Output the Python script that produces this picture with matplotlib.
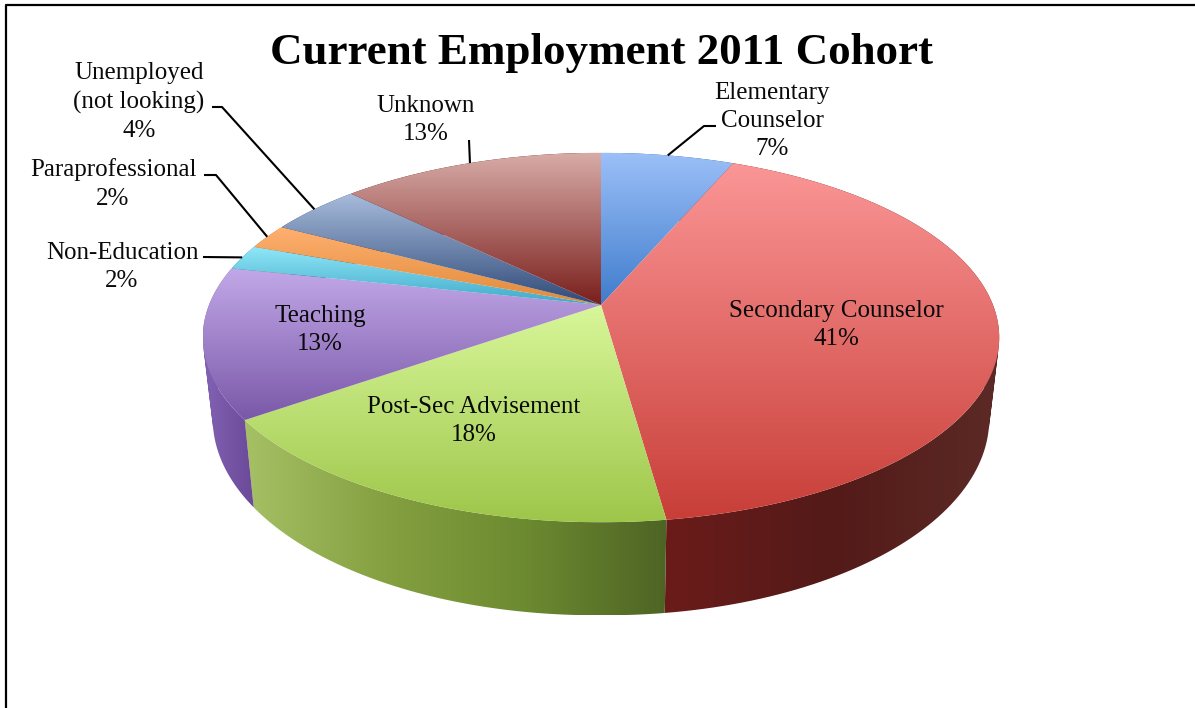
"""Current employment of the 2011 cohort, drawn as a tilted pie with a side wall."""

import numpy as np
import matplotlib

matplotlib.use("Agg")
import matplotlib.pyplot as plt
from matplotlib.colors import LinearSegmentedColormap
from matplotlib.path import Path
from matplotlib.patches import PathPatch

categories = [
    "Elementary\nCounselor",
    "Secondary Counselor",
    "Post-Sec Advisement",
    "Teaching",
    "Non-Education",
    "Paraprofessional",
    "Unemployed\n(not looking)",
    "Unknown",
]
shares = [6.4, 41.4, 17.4, 13.2, 2.2, 2.2, 4.5, 12.7]
percent_labels = ["7%", "41%", "18%", "13%", "2%", "2%", "4%", "13%"]

# gradient stops per slice, light end first
top_colors = [
    ("#9cc0f8", "#3f7ccc"),
    ("#fb9696", "#c83e38"),
    ("#d8f79a", "#9ec64a"),
    ("#c2a8e8", "#7a58a8"),
    ("#90e8f8", "#40a8c8"),
    ("#ffb070", "#e08a3a"),
    ("#a8bcdc", "#2f4a78"),
    ("#d8aca8", "#7a1f1c"),
]
wall_colors = [
    ("#2f5490", "#2f5490"),
    ("#6b1c1a", "#531a18", "#5c2a26"),
    ("#a6c065", "#84a040", "#6c8a30", "#4e6424"),
    ("#8262b2", "#6a4a98"),
    ("#2f8098", "#2f8098"),
    ("#b06a28", "#b06a28"),
    ("#2f4060", "#2f4060"),
    ("#5c1a18", "#5c1a18"),
]

# label anchor (centre x, centre y) in figure pixels
label_pos = [
    (772, 121), (836, 325), (474, 421), (320, 330),
    (122, 267), (113, 184), (139, 102), (426, 120),
]
# leader start and elbow for the outside labels, None when the label sits on the slice
leader_pos = [
    [(716, 126), (704, 126)], None, None, None,
    [(203, 257)], [(204, 175), (216, 175)], [(212, 107), (222, 107)], [(469, 140)],
]

CX, APEX_Y = 601, 305
RADIUS, TILT_K, TILT_D = 392, 179, 0.176


def top_rim(theta):
    """Project pie angles (clockwise from 12 o'clock) onto the top face."""
    u, v = np.sin(theta), np.cos(theta)
    scale = 1 + TILT_D * v
    return CX + RADIUS * u / scale, APEX_Y - TILT_K * v / scale


def bottom_rim(theta):
    x, y = top_rim(theta)
    return CX + (x - CX) * 0.975, 507 + 1.08 * (y - 422) + 3 * np.abs(np.sin(theta))


def gradient_fill(ax, clip_path, colors, vertical, zorder):
    x0, y0 = clip_path.vertices.min(axis=0)
    x1, y1 = clip_path.vertices.max(axis=0)
    cmap = LinearSegmentedColormap.from_list("fill", colors)
    ramp = np.linspace(0, 1, 256)
    ramp = ramp[:, None] if vertical else ramp[None, :]
    image = ax.imshow(
        ramp,
        cmap=cmap,
        extent=(x0, x1, y1, y0),
        aspect="auto",
        zorder=zorder,
        interpolation="bilinear",
    )
    patch = PathPatch(clip_path, transform=ax.transData)
    image.set_clip_path(patch)


def wall_path(theta):
    """Sweep the rim down in small quads so the fold at the pie's sides stays filled."""
    top_x, top_y = top_rim(theta)
    low_x, low_y = bottom_rim(theta)
    verts, codes = [], []
    for j in range(len(theta) - 1):
        quad = np.array([
            (top_x[j], top_y[j]),
            (top_x[j + 1], top_y[j + 1]),
            (low_x[j + 1], low_y[j + 1]),
            (low_x[j], low_y[j]),
        ])
        xs, ys = quad[:, 0], quad[:, 1]
        if np.sum(xs * np.roll(ys, -1) - np.roll(xs, -1) * ys) < 0:
            quad = quad[::-1]
        verts.extend(quad.tolist() + [quad[0].tolist()])
        codes.extend([Path.MOVETO, Path.LINETO, Path.LINETO, Path.LINETO, Path.CLOSEPOLY])
    return Path(verts, codes)


plt.rcParams["font.family"] = ["Liberation Serif", "DejaVu Serif"]
fig = plt.figure(figsize=(11.95, 7.08), dpi=100)
ax = fig.add_axes((0, 0, 1, 1))

edges = np.cumsum([0] + shares) / sum(shares) * 2 * np.pi
for i in range(len(shares)):
    theta = np.linspace(edges[i], edges[i + 1], 120)
    gradient_fill(ax, wall_path(theta), wall_colors[i], vertical=False, zorder=2)

for i in range(len(shares)):
    theta = np.linspace(edges[i], edges[i + 1], 120)
    top_x, top_y = top_rim(theta)
    outline = np.column_stack([np.r_[CX, top_x, CX], np.r_[APEX_Y, top_y, APEX_Y]])
    gradient_fill(ax, Path(outline, closed=True), top_colors[i], vertical=True, zorder=3)

for i, name in enumerate(categories):
    x, y = label_pos[i]
    ax.text(
        x, y, f"{name}\n{percent_labels[i]}",
        ha="center", va="center", fontsize=18, linespacing=1.37,
        color="#0a0a0a", zorder=5,
    )
    if leader_pos[i] is not None:
        end_x, end_y = top_rim((edges[i] + edges[i + 1]) / 2)
        xs = [p[0] for p in leader_pos[i]] + [end_x]
        ys = [p[1] for p in leader_pos[i]] + [end_y]
        ax.plot(xs, ys, color="black", lw=1.5, zorder=4, solid_capstyle="butt")

ax.text(
    601.5, 53, "Current Employment 2011 Cohort",
    ha="center", va="center", fontsize=32.4, fontweight="bold", color="black", zorder=5,
)

# frame of the original page: left and top edges only show
ax.plot([6, 6, 1195], [708, 4.5, 4.5], color="black", lw=1.6, zorder=6)

ax.set_xlim(0, 1195)
ax.set_ylim(708, 0)
ax.axis("off")
fig.savefig("out.png", dpi=100)
